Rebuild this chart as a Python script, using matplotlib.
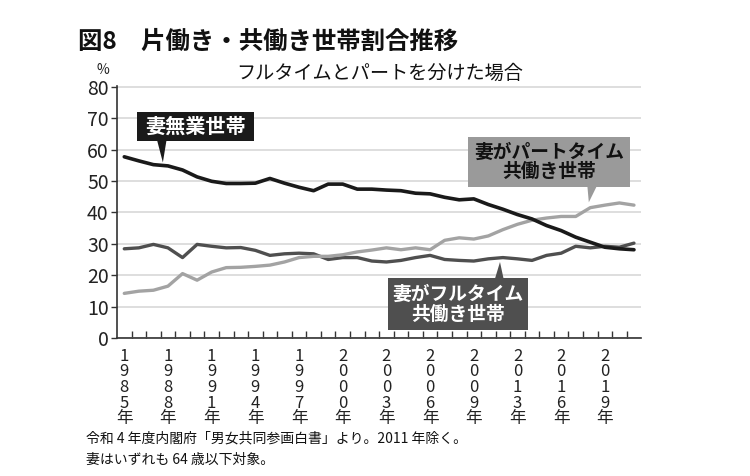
import matplotlib
matplotlib.use("Agg")
import matplotlib.pyplot as plt
from matplotlib.patches import Rectangle, Polygon
import numpy as np

plt.rcParams['font.family'] = ['Noto Sans CJK JP', 'DejaVu Sans']

years = list(range(1985, 2011)) + list(range(2012, 2022))
no_work = [57.7, 56.4, 55.2, 54.8, 53.5, 51.3, 49.9, 49.2, 49.2, 49.3, 50.8, 49.3, 48.0,
           46.9, 49.0, 49.0, 47.4, 47.4, 47.1, 46.9, 46.1, 45.9, 44.8, 44.0, 44.3, 42.5,
           41.0, 39.3, 37.9, 35.8, 34.2, 32.1, 30.5, 28.9, 28.4, 28.1]
part_time = [14.2, 14.9, 15.2, 16.5, 20.5, 18.4, 21.0, 22.4, 22.5, 22.8, 23.2, 24.2, 25.6,
             26.0, 26.0, 26.5, 27.4, 28.0, 28.7, 28.1, 28.7, 28.1, 31.1, 31.9, 31.5, 32.5,
             34.5, 36.2, 37.5, 38.2, 38.7, 38.7, 41.5, 42.3, 43.0, 42.3]
full_time = [28.4, 28.7, 29.8, 28.7, 25.6, 29.8, 29.2, 28.7, 28.8, 27.9, 26.3, 26.8, 27.0,
             26.8, 25.0, 25.6, 25.6, 24.5, 24.2, 24.7, 25.6, 26.3, 25.0, 24.7, 24.5, 25.2,
             25.6, 25.2, 24.7, 26.3, 27.0, 29.2, 28.7, 29.2, 28.9, 30.2]
label_years = [1985, 1988, 1991, 1994, 1997, 2000, 2003, 2006, 2009, 2013, 2016, 2019]

c_black = '#1a1a1a'
c_gray = '#a3a3a3'
c_dark = '#4f4f4f'

fig = plt.figure(figsize=(7.5, 4.76), dpi=100)
ax = fig.add_axes([0.156, 0.290, 0.699, 0.529])

x = np.arange(len(years))
ax.plot(x, full_time, color=c_dark, lw=2.4, solid_capstyle='round', zorder=3)
ax.plot(x, part_time, color=c_gray, lw=2.4, solid_capstyle='round', zorder=3)
ax.plot(x, no_work, color=c_black, lw=2.6, solid_capstyle='round', zorder=4)

ax.set_xlim(-0.5, len(years) - 0.5)
ax.set_ylim(0, 80.2)
ax.set_yticks(range(0, 81, 10))
ax.tick_params(axis='y', labelsize=14, length=4, width=1, color='#333333', pad=2,
               labelcolor='#222222')
ax.yaxis.grid(True, color='#d5d5d5', lw=1.1)
ax.set_axisbelow(True)

pos = [years.index(y) for y in label_years]
ax.set_xticks(pos)
ax.set_xticklabels(['\n'.join(list(str(y)) + ['年']) for y in label_years],
                   fontsize=12, linespacing=0.9, color='#222222')
ax.tick_params(axis='x', which='major', length=0, pad=7)
ax.set_xticks(np.arange(0.5, len(years) - 0.5, 1), minor=True)
ax.tick_params(axis='x', which='minor', direction='in', length=5, width=1, color='#333333')

for s in ['top', 'right']:
    ax.spines[s].set_visible(False)
for s in ['left', 'bottom']:
    ax.spines[s].set_color('#333333')
    ax.spines[s].set_linewidth(1.2)

# annotation boxes
def box(x0, x1, y0, y1, color, text, tcolor, fs, tri):
    ax.add_patch(Rectangle((x0, y0), x1 - x0, y1 - y0, facecolor=color, edgecolor='none',
                           zorder=6, clip_on=False))
    ax.add_patch(Polygon(tri, closed=True, facecolor=color, edgecolor='none', zorder=6,
                         clip_on=False))
    ax.text((x0 + x1) / 2, (y0 + y1) / 2, text, ha='center', va='center', color=tcolor,
            fontsize=fs, fontweight='bold', linespacing=1.05, zorder=7)

box(0.89, 8.9, 62.8, 71.9, c_black, '妻無業世帯', 'white', 14.5,
    [(2.25, 63.0), (2.9, 63.0), (2.65, 55.9)])
box(23.6, 34.7, 48.2, 64.0, '#9a9a9a', '妻がパートタイム\n共働き世帯', '#111111', 13.5,
    [(31.8, 48.4), (32.45, 48.4), (31.9, 43.2)])
box(18.1, 27.7, 2.5, 19.0, c_dark, '妻がフルタイム\n共働き世帯', 'white', 13.5,
    [(25.45, 18.8), (26.05, 18.8), (25.8, 24.2)])

fig.text(78 / 750, 1 - 42 / 476, '図8　片働き・共働き世帯割合推移', fontsize=17.6,
         fontweight='bold', ha='left', va='center', color='#111111')
fig.text(380 / 750, 1 - 73 / 476, 'フルタイムとパートを分けた場合', fontsize=13.8,
         ha='center', va='center', color='#111111')
fig.text(103 / 750, 1 - 70 / 476, '%', fontsize=10, ha='center', va='center', color='#222222')
fig.text(86 / 750, 1 - 438 / 476, '令和 4 年度内閣府「男女共同参画白書」より。2011 年除く。',
         fontsize=10, ha='left', va='center', color='#111111')
fig.text(86 / 750, 1 - 460 / 476, '妻はいずれも 64 歳以下対象。',
         fontsize=10, ha='left', va='center', color='#111111')

fig.savefig('out.png', dpi=100)
